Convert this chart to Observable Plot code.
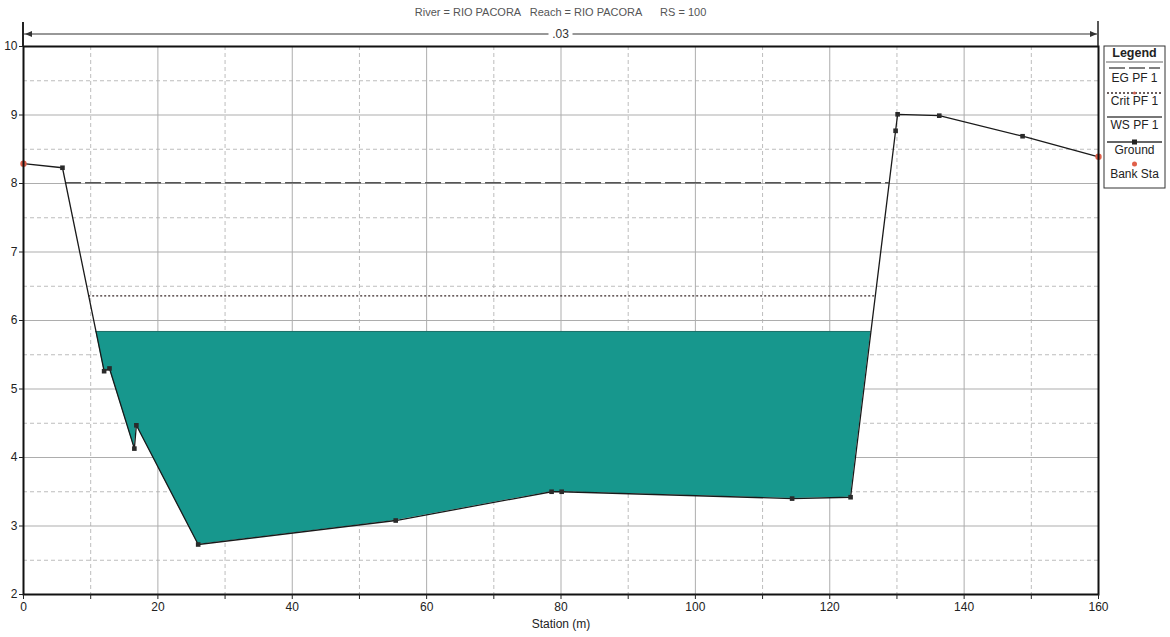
<!DOCTYPE html>
<html><head><meta charset="utf-8">
<script src="https://cdn.jsdelivr.net/npm/d3@7"></script>
<script src="https://cdn.jsdelivr.net/npm/@observablehq/plot@0.6"></script>
<style>
html,body{margin:0;padding:0;background:#fff;}
#chart{position:relative;width:1170px;height:637px;}
</style></head><body><div id="chart"></div>
<script>
// ---- data ----
const titleText = "River = RIO PACORA   Reach = RIO PACORA      RS = 100";
const station   = [0, 5.8, 12.0, 12.8, 16.5, 16.8, 26.0, 55.4, 78.6, 80.1, 114.4, 123.1, 129.8, 130.1, 136.3, 148.7, 160];
const elevation = [8.29, 8.23, 5.26, 5.30, 4.13, 4.47, 2.73, 3.08, 3.50, 3.50, 3.40, 3.42, 8.77, 9.01, 8.99, 8.69, 8.39];
const bankStations = [0, 160];
const wsElev = 5.84;     // WS PF 1
const critElev = 6.36;   // Crit PF 1
const egElev = 8.01;     // EG PF 1
const manningN = ".03";
const xMajor = [0, 20, 40, 60, 80, 100, 120, 140, 160];
const xMinor = [10, 30, 50, 70, 90, 110, 130, 150];
const yMajor = [2, 3, 4, 5, 6, 7, 8, 9, 10];
const yMinor = [2.5, 3.5, 4.5, 5.5, 6.5, 7.5, 8.5, 9.5];
const legendNames = ["EG PF 1", "Crit PF 1", "WS PF 1", "Ground", "Bank Sta"];
const xLabel = "Station (m)";

// ---- derived ----
const ground = station.map((s, i) => ({station: s, elev: elevation[i]}));
const bankPts = ground.filter(d => bankStations.includes(d.station));
function crossings(L) {
  const out = [];
  for (let i = 0; i < ground.length - 1; i++) {
    const a = ground[i], b = ground[i + 1];
    if ((a.elev - L) * (b.elev - L) < 0) {
      out.push(a.station + (b.station - a.station) * (a.elev - L) / (a.elev - b.elev));
    }
  }
  return [out[0], out[out.length - 1]];
}
const [wsL, wsR] = crossings(wsElev);
const [crL, crR] = crossings(critElev);
const [egL, egR] = crossings(egElev);
const water = [{x: wsL, g: wsElev, w: wsElev}]
  .concat(ground.filter(d => d.station > wsL && d.station < wsR).map(d => ({x: d.station, g: d.elev, w: wsElev})))
  .concat([{x: wsR, g: wsElev, w: wsElev}]);

const font = "Liberation Sans, Arial, sans-serif";
const chart = Plot.plot({
  width: 1170, height: 637,
  marginTop: 46, marginRight: 72, marginBottom: 43, marginLeft: 23,
  x: {domain: [0, 160]},
  y: {domain: [2, 10]},
  style: {fontFamily: font, fontSize: "12px", background: "#fff", color: "#222"},
  marks: [
    Plot.ruleY(yMinor, {stroke: "#bdbdbd", strokeDasharray: "4,3"}),
    Plot.ruleX(xMinor, {stroke: "#bdbdbd", strokeDasharray: "4,3"}),
    Plot.ruleY(yMajor, {stroke: "#adadad"}),
    Plot.ruleX(xMajor, {stroke: "#adadad"}),
    Plot.areaY(water, {x: "x", y1: "g", y2: "w", fill: "#17978d", curve: "linear"}),
    Plot.ruleY([wsElev], {x1: wsL, x2: wsR, stroke: "#1f6f69", strokeWidth: 1}),
    Plot.ruleY([critElev], {x1: crL, x2: crR, stroke: "#3a2a2a", strokeWidth: 1.4, strokeDasharray: "2,2"}),
    Plot.ruleY([egElev], {x1: egL, x2: egR, stroke: "#555", strokeWidth: 1.4, strokeDasharray: "16,4"}),
    Plot.line(ground, {x: "station", y: "elev", stroke: "#1a1a1a", strokeWidth: 1.3}),
    Plot.dot(ground.filter(d => !bankStations.includes(d.station)), {x: "station", y: "elev", symbol: "square", r: 2.6, fill: "#2a2a2a", stroke: "none"}),
    Plot.dot(bankPts, {x: "station", y: "elev", r: 3.2, fill: "#e0604a", stroke: "none"}),
    Plot.frame({stroke: "#111", strokeWidth: 2}),
    Plot.axisY(yMajor, {tickSize: 4, tickPadding: 2, label: null, fontSize: 12, fill: "#222", tickFormat: d3.format("d")}),
    Plot.axisX(xMinor, {tickSize: 5, tickFormat: () => "", label: null}),
    Plot.axisX(xMajor, {tickSize: 5, tickPadding: 3, label: null, fontSize: 12, fill: "#222", tickFormat: d3.format("d")}),
    Plot.text([xLabel], {frameAnchor: "bottom", dy: 33, text: d => d, fontSize: 12, fill: "#222"})
  ]
});
document.getElementById("chart").append(chart);

const sx = chart.scale("x");
const svg = d3.select(chart);
const x0 = sx.apply(0), x1 = sx.apply(160), xm = (x0 + x1) / 2;
const frameTop = 46;
// title
svg.append("text").attr("x", xm).attr("y", 16).attr("text-anchor", "middle")
  .attr("font-family", font).attr("font-size", 11).attr("fill", "#555")
  .style("white-space", "pre").text(titleText);
// Manning's n reach arrow
const ay = 34;
svg.append("line").attr("x1", x0).attr("x2", x0).attr("y1", 22).attr("y2", frameTop).attr("stroke", "#222").attr("stroke-width", 2);
svg.append("line").attr("x1", x1).attr("x2", x1).attr("y1", 21).attr("y2", frameTop).attr("stroke", "#222").attr("stroke-width", 1.5);
svg.append("line").attr("x1", x0 + 1).attr("x2", x1 - 1).attr("y1", ay).attr("y2", ay).attr("stroke", "#333").attr("stroke-width", 1.2);
svg.append("path").attr("d", `M${x0+2},${ay} l7,-3 l0,6 z`).attr("fill", "#333");
svg.append("path").attr("d", `M${x1-1},${ay} l-7,-3 l0,6 z`).attr("fill", "#333");
svg.append("rect").attr("x", xm - 12).attr("y", ay - 8).attr("width", 24).attr("height", 15).attr("fill", "#fff");
svg.append("text").attr("x", xm).attr("y", ay + 4).attr("text-anchor", "middle")
  .attr("font-family", font).attr("font-size", 12).attr("fill", "#333").text(manningN);

// legend
const lg = svg.append("g").attr("transform", "translate(1104,46)").attr("font-family", font).attr("font-size", 12).attr("fill", "#222");
lg.append("rect").attr("x", 0).attr("y", 0).attr("width", 61).attr("height", 142).attr("fill", "#fff").attr("stroke", "#333").attr("stroke-width", 1);
lg.append("text").attr("x", 30.5).attr("y", 11).attr("text-anchor", "middle").attr("font-weight", "bold").attr("font-size", 12.5).text("Legend");
lg.append("line").attr("x1", 2).attr("x2", 59).attr("y1", 16).attr("y2", 16).attr("stroke", "#666");
const textY = [36, 59, 83, 108, 132];
const symY = [22, 47, 71, 96, 118];
// EG
lg.append("line").attr("x1", 5).attr("x2", 56).attr("y1", symY[0]).attr("y2", symY[0]).attr("stroke", "#555").attr("stroke-width", 1.4).attr("stroke-dasharray", "16,4");
// Crit
lg.append("line").attr("x1", 3).attr("x2", 58).attr("y1", symY[1]).attr("y2", symY[1]).attr("stroke", "#3a2a2a").attr("stroke-width", 1.3).attr("stroke-dasharray", "2,2");
lg.append("circle").attr("cx", 30.5).attr("cy", symY[1]).attr("r", 1.6).attr("fill", "#d06050");
// WS
lg.append("line").attr("x1", 3).attr("x2", 58).attr("y1", symY[2]).attr("y2", symY[2]).attr("stroke", "#777").attr("stroke-width", 2);
// Ground
lg.append("line").attr("x1", 3).attr("x2", 58).attr("y1", symY[3]).attr("y2", symY[3]).attr("stroke", "#333").attr("stroke-width", 1.3);
lg.append("rect").attr("x", 28).attr("y", symY[3] - 2.5).attr("width", 5).attr("height", 5).attr("fill", "#222");
// Bank
lg.append("circle").attr("cx", 30.5).attr("cy", symY[4]).attr("r", 2.5).attr("fill", "#e0604a");
legendNames.forEach((n, i) => {
  lg.append("text").attr("x", 30.5).attr("y", textY[i]).attr("text-anchor", "middle").text(n);
});
</script></body></html>
